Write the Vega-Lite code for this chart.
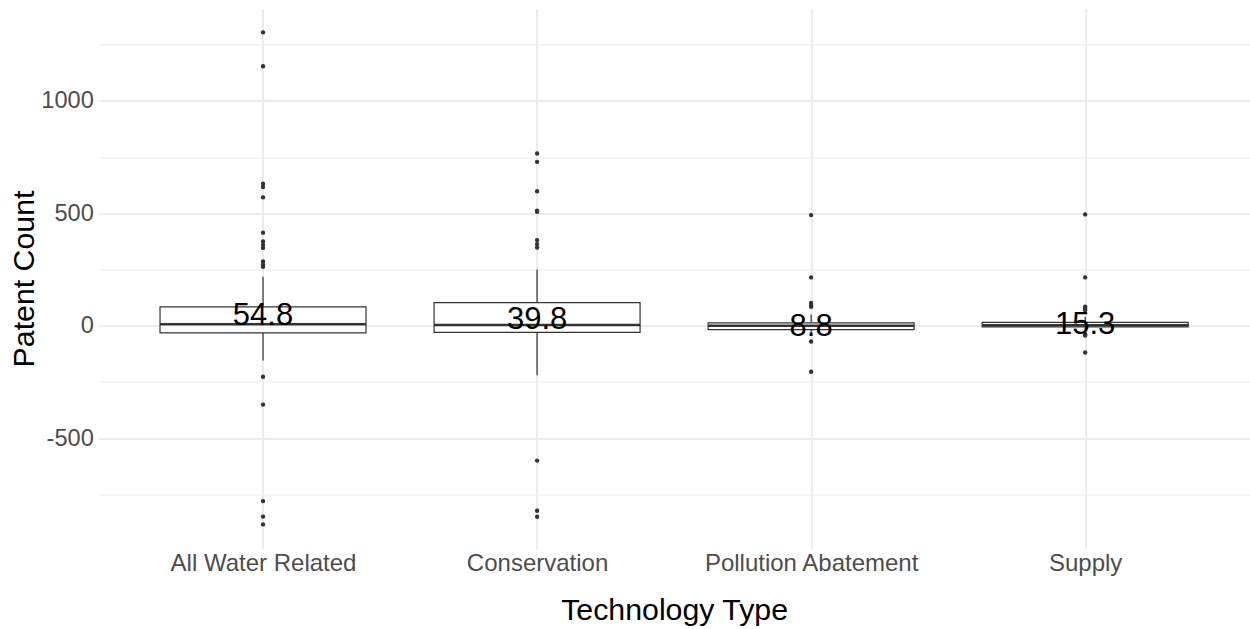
{
  "$schema": "https://vega.github.io/schema/vega-lite/v6.json",
  "autosize": "none",
  "width": 1151,
  "height": 540,
  "padding": {"left": 98.6, "top": 8.5, "right": 0.4, "bottom": 80.5},
  "background": "white",
  "config": {"view": {"stroke": null}, "font": "Liberation Sans"},
  "datasets": {
    "stats": [
      {"type": "All Water Related", "lower": -155, "q1": -32, "median": 6, "q3": 84, "upper": 218, "mean": 54.8, "label": "54.8"},
      {"type": "Conservation", "lower": -220, "q1": -30, "median": 3, "q3": 103, "upper": 250, "mean": 39.8, "label": "39.8"},
      {"type": "Pollution Abatement", "lower": -35, "q1": -17, "median": 0, "q3": 13, "upper": 50, "mean": 8.8, "label": "8.8"},
      {"type": "Supply", "lower": -30, "q1": -5, "median": 2, "q3": 15, "upper": 40, "mean": 15.3, "label": "15.3"}
    ],
    "outliers": [
      {"type": "All Water Related", "value": 1305},
      {"type": "All Water Related", "value": 1154},
      {"type": "All Water Related", "value": 632},
      {"type": "All Water Related", "value": 617},
      {"type": "All Water Related", "value": 571},
      {"type": "All Water Related", "value": 414},
      {"type": "All Water Related", "value": 375},
      {"type": "All Water Related", "value": 359},
      {"type": "All Water Related", "value": 346},
      {"type": "All Water Related", "value": 286},
      {"type": "All Water Related", "value": 272},
      {"type": "All Water Related", "value": 262},
      {"type": "All Water Related", "value": -227},
      {"type": "All Water Related", "value": -351},
      {"type": "All Water Related", "value": -780},
      {"type": "All Water Related", "value": -849},
      {"type": "All Water Related", "value": -884},
      {"type": "Conservation", "value": 766},
      {"type": "Conservation", "value": 729},
      {"type": "Conservation", "value": 598},
      {"type": "Conservation", "value": 512},
      {"type": "Conservation", "value": 507},
      {"type": "Conservation", "value": 381},
      {"type": "Conservation", "value": 363},
      {"type": "Conservation", "value": 348},
      {"type": "Conservation", "value": -600},
      {"type": "Conservation", "value": -823},
      {"type": "Conservation", "value": -850},
      {"type": "Pollution Abatement", "value": 492},
      {"type": "Pollution Abatement", "value": 215},
      {"type": "Pollution Abatement", "value": 101},
      {"type": "Pollution Abatement", "value": 92},
      {"type": "Pollution Abatement", "value": 84},
      {"type": "Pollution Abatement", "value": -70},
      {"type": "Pollution Abatement", "value": -205},
      {"type": "Supply", "value": 495},
      {"type": "Supply", "value": 215},
      {"type": "Supply", "value": 85},
      {"type": "Supply", "value": 77},
      {"type": "Supply", "value": 70},
      {"type": "Supply", "value": -38},
      {"type": "Supply", "value": -44},
      {"type": "Supply", "value": -119}
    ]
  },
  "encoding": {
    "x": {
      "field": "type",
      "type": "nominal",
      "title": "Technology Type",
      "scale": {"type": "point", "padding": 0.6, "domain": ["All Water Related", "Conservation", "Pollution Abatement", "Supply"]},
      "axis": {
        "domain": false,
        "ticks": false,
        "tickSize": 0,
        "labelPadding": 3.3,
        "labelLimit": 0,
        "labelFont": "Liberation Sans",
        "labelFontSize": 24,
        "labelColor": "#4D4D4D",
        "labelAngle": 0,
        "grid": true,
        "gridColor": "#EBEBEB",
        "gridWidth": 2,
        "titleFont": "Liberation Sans",
        "titleFontSize": 30.3,
        "titleFontWeight": "normal",
        "titleColor": "#000000",
        "titlePadding": 20
      }
    }
  },
  "layer": [
    {
      "data": {"name": "stats"},
      "mark": {"type": "rule", "color": "#333333", "strokeWidth": 1.2},
      "encoding": {
        "y": {
          "field": "lower",
          "type": "quantitative",
          "title": "Patent Count",
          "scale": {"domain": [-991, 1411], "nice": false, "zero": false},
          "axis": {
            "values": [-750, -500, -250, 0, 250, 500, 750, 1000, 1250],
            "labelExpr": "datum.value % 500 === 0 ? '' + datum.value : ''",
            "domain": false,
            "ticks": false,
            "tickSize": 0,
            "labelPadding": 5.3,
            "labelFont": "Liberation Sans",
            "labelFontSize": 23.6,
            "labelColor": "#4D4D4D",
            "gridColor": "#EBEBEB",
            "gridWidth": {"condition": {"test": "datum.value % 500 === 0", "value": 2}, "value": 1},
            "titleFont": "Liberation Sans",
            "titleFontSize": 30.3,
            "titleFontWeight": "normal",
            "titleColor": "#000000",
            "titlePadding": 1
          }
        },
        "y2": {"field": "upper"}
      }
    },
    {
      "data": {"name": "stats"},
      "mark": {"type": "bar", "size": 206, "fill": "white", "stroke": "#333333", "strokeWidth": 1.2},
      "encoding": {
        "y": {"field": "q1", "type": "quantitative", "title": "Patent Count"},
        "y2": {"field": "q3"}
      }
    },
    {
      "data": {"name": "stats"},
      "mark": {"type": "tick", "size": 206, "thickness": 2.5, "color": "#333333", "orient": "horizontal", "opacity": 1},
      "encoding": {
        "y": {"field": "median", "type": "quantitative", "title": "Patent Count"}
      }
    },
    {
      "data": {"name": "outliers"},
      "mark": {"type": "circle", "size": 19, "color": "#333333", "opacity": 1},
      "encoding": {
        "y": {"field": "value", "type": "quantitative", "title": "Patent Count"}
      }
    },
    {
      "data": {"name": "stats"},
      "mark": {"type": "text", "font": "Liberation Sans", "fontSize": 31, "color": "#000000", "baseline": "alphabetic", "align": "center", "dy": 12},
      "encoding": {
        "y": {"field": "mean", "type": "quantitative", "title": "Patent Count"},
        "text": {"field": "label", "type": "nominal"}
      }
    }
  ]
}
